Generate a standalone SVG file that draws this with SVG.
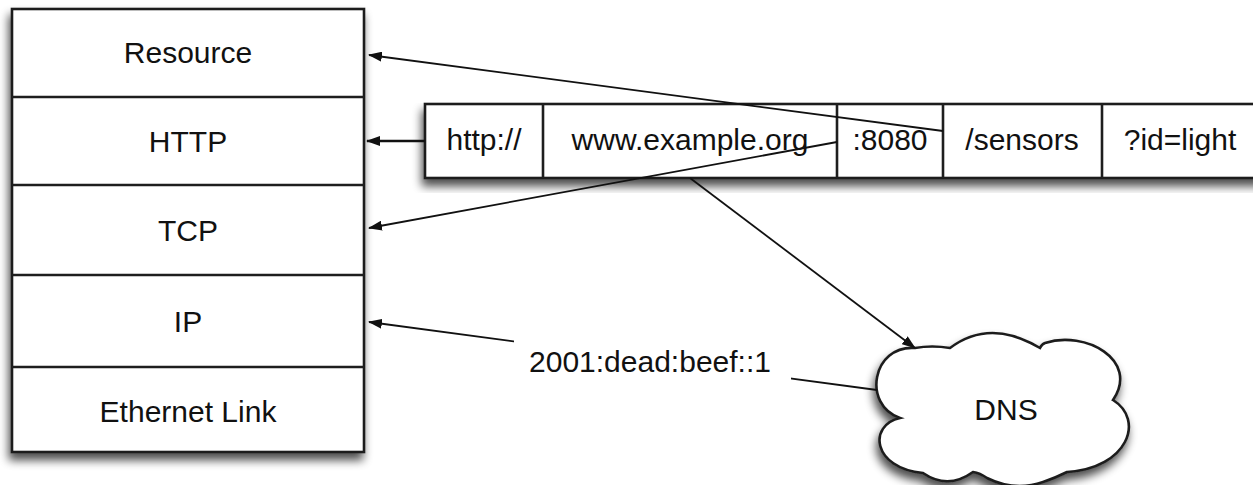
<svg xmlns="http://www.w3.org/2000/svg" width="1253" height="485" viewBox="0 0 1253 485">
  <style>
    .box { fill: #ffffff; stroke: #1e1e1e; stroke-width: 2.6; }
    .div { stroke: #1e1e1e; stroke-width: 2.6; }
    .lbl { font-family: "Liberation Sans", Arial, sans-serif; font-size: 30px; fill: #111111; text-anchor: middle; }
    .conn { fill: none; stroke: #111111; stroke-width: 1.8; }
  </style>
  <defs>
    <filter id="shadow" x="-10%" y="-10%" width="125%" height="130%">
      <feGaussianBlur in="SourceAlpha" stdDeviation="5"/>
      <feOffset dx="-2" dy="7" result="b"/>
      <feComponentTransfer><feFuncA type="linear" slope="0.7"/></feComponentTransfer>
      <feMerge><feMergeNode/><feMergeNode in="SourceGraphic"/></feMerge>
    </filter>
    <marker id="arrow" viewBox="0 0 14 10" refX="13" refY="5" markerWidth="14" markerHeight="10" markerUnits="userSpaceOnUse" orient="auto">
      <path d="M0,0 L14,5 L0,10 z" fill="#111111"/>
    </marker>
  </defs>
  <rect width="1253" height="485" fill="#ffffff"/>

  <g id="stack">
    <rect class="box" x="12" y="9" width="352" height="443" filter="url(#shadow)"/>
    <line class="div" x1="12" y1="97" x2="364" y2="97"/>
    <line class="div" x1="12" y1="185" x2="364" y2="185"/>
    <line class="div" x1="12" y1="275" x2="364" y2="275"/>
    <line class="div" x1="12" y1="367" x2="364" y2="367"/>
    <g id="layer-resource"><text class="lbl" x="188" y="63">Resource</text></g>
    <g id="layer-http"><text class="lbl" x="188" y="152">HTTP</text></g>
    <g id="layer-tcp"><text class="lbl" x="188" y="241">TCP</text></g>
    <g id="layer-ip"><text class="lbl" x="188" y="332">IP</text></g>
    <g id="layer-ethernet"><text class="lbl" x="188" y="422">Ethernet Link</text></g>
  </g>

  <g id="url">
    <rect class="box" x="425" y="104" width="840" height="74" filter="url(#shadow)"/>
    <line class="div" x1="543" y1="104" x2="543" y2="178"/>
    <line class="div" x1="837" y1="104" x2="837" y2="178"/>
    <line class="div" x1="943" y1="104" x2="943" y2="178"/>
    <line class="div" x1="1102" y1="104" x2="1102" y2="178"/>
    <g id="url-scheme"><text class="lbl" x="484" y="150">http://</text></g>
    <g id="url-host"><text class="lbl" x="690" y="150">www.example.org</text></g>
    <g id="url-port"><text class="lbl" x="890" y="150">:8080</text></g>
    <g id="url-path"><text class="lbl" x="1022" y="150">/sensors</text></g>
    <g id="url-query"><text class="lbl" x="1180" y="150">?id=light</text></g>
  </g>

  <g id="dns">
    <path class="box" filter="url(#shadow)" d="M915,348 Q932,345 950,348 Q990,318 1040,348 Q1042,344 1045,343 C1085,330 1140,360 1113,400 C1145,420 1128,468 1067,472 Q1055,478 1043,482 Q1015,492 987,478 Q980,473 973,472 Q948,490 923,473 C872,468 868,425 900,418 C862,405 872,345 915,348 Z"/>
    <text class="lbl" x="1006" y="420">DNS</text>
  </g>

  <g id="connectors">
    <line class="conn" x1="943" y1="131" x2="369" y2="55" marker-end="url(#arrow)"/>
    <line class="conn" x1="425" y1="141" x2="367" y2="141" marker-end="url(#arrow)" style="stroke-width:2.6"/>
    <line class="conn" x1="837" y1="142" x2="369" y2="228" marker-end="url(#arrow)"/>
    <line class="conn" x1="690" y1="178" x2="915" y2="348" marker-end="url(#arrow)"/>
    <line class="conn" x1="877" y1="390" x2="369" y2="322" marker-end="url(#arrow)"/>
    <rect x="514" y="334" width="277" height="50" fill="#ffffff"/>
    <text class="lbl" x="650" y="372">2001:dead:beef::1</text>
  </g>
</svg>
